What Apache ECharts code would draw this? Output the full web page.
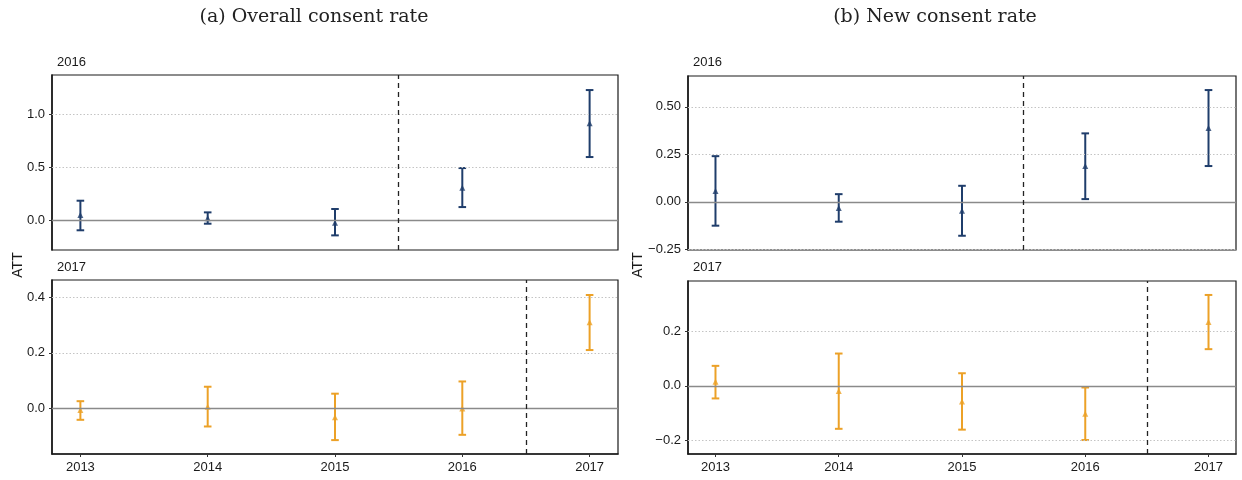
<!DOCTYPE html>
<html>
<head>
<meta charset="utf-8">
<script src="https://cdn.jsdelivr.net/npm/echarts@6/dist/echarts.min.js"></script>
<style>
  html, body { margin: 0; padding: 0; background: #fff; }
  #chart { width: 1242px; height: 480px; }
</style>
</head>
<body>
<div id="chart"></div>
<script>
// Event-study estimates (ATT) with confidence intervals, by treatment cohort
const years = [2013, 2014, 2015, 2016, 2017];

// (a) Overall consent rate
const overall2016Est  = [0.050, 0.019, -0.022, 0.308, 0.915];
const overall2016Low  = [-0.094, -0.032, -0.142, 0.125, 0.597];
const overall2016High = [0.185, 0.075, 0.107, 0.493, 1.229];
const overall2017Est  = [-0.006, 0.006, -0.032, 0.000, 0.310];
const overall2017Low  = [-0.041, -0.065, -0.114, -0.095, 0.210];
const overall2017High = [0.026, 0.078, 0.053, 0.097, 0.408];

// (b) New consent rate
const new2016Est  = [0.056, -0.033, -0.047, 0.188, 0.388];
const new2016Low  = [-0.126, -0.105, -0.179, 0.014, 0.188];
const new2016High = [0.240, 0.040, 0.084, 0.360, 0.588];
const new2017Est  = [0.015, -0.019, -0.057, -0.102, 0.233];
const new2017Low  = [-0.046, -0.157, -0.160, -0.198, 0.134];
const new2017High = [0.073, 0.118, 0.046, -0.006, 0.332];

// y-axis tick labels per facet
const ticksOverall2016 = [0, 0.5, 1.0];
const ticksOverall2017 = [0, 0.2, 0.4];
const ticksNew2016 = [-0.25, 0, 0.25, 0.5];
const ticksNew2017 = [-0.2, 0, 0.2];

const cohortColor = { 2016: '#1f3d6b', 2017: '#eca127' };
const FONT = '"Liberation Sans", Arial, sans-serif';
const INK = '#1a1a1a';

const panels = [
  { rect: { left: 52, top: 75, width: 566, height: 175 }, yMin: -0.28, yMax: 1.371, ticks: ticksOverall2016, dec: 1,
    cohort: 2016, est: overall2016Est, low: overall2016Low, high: overall2016High, showX: false },
  { rect: { left: 52, top: 280, width: 566, height: 174 }, yMin: -0.164, yMax: 0.462, ticks: ticksOverall2017, dec: 1,
    cohort: 2017, est: overall2017Est, low: overall2017Low, high: overall2017High, showX: true },
  { rect: { left: 688, top: 76, width: 548, height: 174 }, yMin: -0.254, yMax: 0.662, ticks: ticksNew2016, dec: 2,
    cohort: 2016, est: new2016Est, low: new2016Low, high: new2016High, showX: false },
  { rect: { left: 688, top: 281, width: 548, height: 173 }, yMin: -0.249, yMax: 0.383, ticks: ticksNew2017, dec: 1,
    cohort: 2017, est: new2017Est, low: new2017Low, high: new2017High, showX: true }
];

// tick text with a typographic minus sign
const fmt = (v, dec) => (v < 0 ? '\u2212' : '') + Math.abs(v).toFixed(dec);

const grid = [], xAxis = [], yAxis = [], series = [];

panels.forEach((p, i) => {
  grid.push(Object.assign({ show: true, borderColor: INK, borderWidth: 1.2, backgroundColor: '#fff' }, p.rect));

  xAxis.push({
    type: 'value', gridIndex: i, min: 2012.777, max: 2017.223,
    axisLine: { show: p.showX, onZero: false, lineStyle: { color: INK, width: 1.6 } },
    axisTick: { show: p.showX, customValues: years, length: 3, lineStyle: { color: '#333', width: 1 } },
    splitLine: { show: false },
    axisLabel: {
      show: p.showX, customValues: years, margin: 7,
      color: INK, fontFamily: FONT, fontSize: 13,
      formatter: v => String(Math.round(v))
    }
  });

  yAxis.push({
    type: 'value', gridIndex: i, min: p.yMin, max: p.yMax,
    axisLine: { show: true, onZero: false, lineStyle: { color: INK, width: 1.6 } },
    axisTick: { show: true, customValues: p.ticks, length: 3, lineStyle: { color: '#333', width: 1 } },
    splitLine: { show: false },
    axisLabel: {
      customValues: p.ticks, margin: 7,
      color: INK, fontFamily: FONT, fontSize: 13,
      formatter: v => fmt(v, p.dec)
    }
  });

  // reference lines: dotted grid, zero line, treatment onset
  const lines = p.ticks.filter(t => t !== 0).map(t => ({
    yAxis: t, lineStyle: { color: '#c4c4c4', type: [1.5, 2], width: 1 }
  }));
  lines.push({ yAxis: 0, lineStyle: { color: '#8a8a8a', type: 'solid', width: 1.3 } });
  lines.push({ xAxis: p.cohort - 0.5, lineStyle: { color: '#222', type: [5, 4], width: 1.3 } });

  series.push({
    type: 'scatter', xAxisIndex: i, yAxisIndex: i, z: 1, silent: true,
    symbolSize: 0, data: [],
    markLine: { silent: true, symbol: 'none', animation: false, label: { show: false }, data: lines }
  });

  const color = cohortColor[p.cohort];
  const ciData = years.map((y, k) => [y, p.low[k], p.high[k]]);

  series.push({
    type: 'custom', xAxisIndex: i, yAxisIndex: i, z: 3, silent: true,
    data: ciData,
    renderItem: (params, api) => {
      const lo = api.coord([api.value(0), api.value(1)]);
      const hi = api.coord([api.value(0), api.value(2)]);
      const cap = 3.8;
      const style = { stroke: color, lineWidth: 2, fill: 'none' };
      return {
        type: 'group',
        children: [
          { type: 'line', shape: { x1: lo[0], y1: lo[1], x2: hi[0], y2: hi[1] }, style },
          { type: 'line', shape: { x1: hi[0] - cap, y1: hi[1], x2: hi[0] + cap, y2: hi[1] }, style },
          { type: 'line', shape: { x1: lo[0] - cap, y1: lo[1], x2: lo[0] + cap, y2: lo[1] }, style }
        ]
      };
    }
  });

  series.push({
    type: 'scatter', xAxisIndex: i, yAxisIndex: i, z: 4, silent: true,
    symbol: 'triangle', symbolSize: 6,
    itemStyle: { color: color },
    data: years.map((y, k) => [y, p.est[k]])
  });
});

const titleFont = 'normal 19px "DejaVu Serif", serif';
const stripFont = '13px "Liberation Sans", Arial, sans-serif';
const attFont = '14px "Liberation Sans", Arial, sans-serif';

const chart = echarts.init(document.getElementById('chart'), null, { renderer: 'canvas' });
chart.setOption({
  animation: false,
  backgroundColor: '#fff',
  grid, xAxis, yAxis, series,
  graphic: [
    { type: 'text', x: 314, y: 17, style: { text: '(a) Overall consent rate', align: 'center', verticalAlign: 'middle', font: titleFont, fill: '#222' } },
    { type: 'text', x: 935, y: 17, style: { text: '(b) New consent rate', align: 'center', verticalAlign: 'middle', font: titleFont, fill: '#222' } },
    { type: 'text', x: 57, y: 62, style: { text: '2016', verticalAlign: 'middle', font: stripFont, fill: INK } },
    { type: 'text', x: 57, y: 267, style: { text: '2017', verticalAlign: 'middle', font: stripFont, fill: INK } },
    { type: 'text', x: 693, y: 62, style: { text: '2016', verticalAlign: 'middle', font: stripFont, fill: INK } },
    { type: 'text', x: 693, y: 267, style: { text: '2017', verticalAlign: 'middle', font: stripFont, fill: INK } },
    { type: 'text', x: 18, y: 265, rotation: Math.PI / 2, style: { text: 'ATT', align: 'center', verticalAlign: 'middle', font: attFont, fill: INK } },
    { type: 'text', x: 638, y: 265, rotation: Math.PI / 2, style: { text: 'ATT', align: 'center', verticalAlign: 'middle', font: attFont, fill: INK } }
  ]
});
</script>
</body>
</html>
